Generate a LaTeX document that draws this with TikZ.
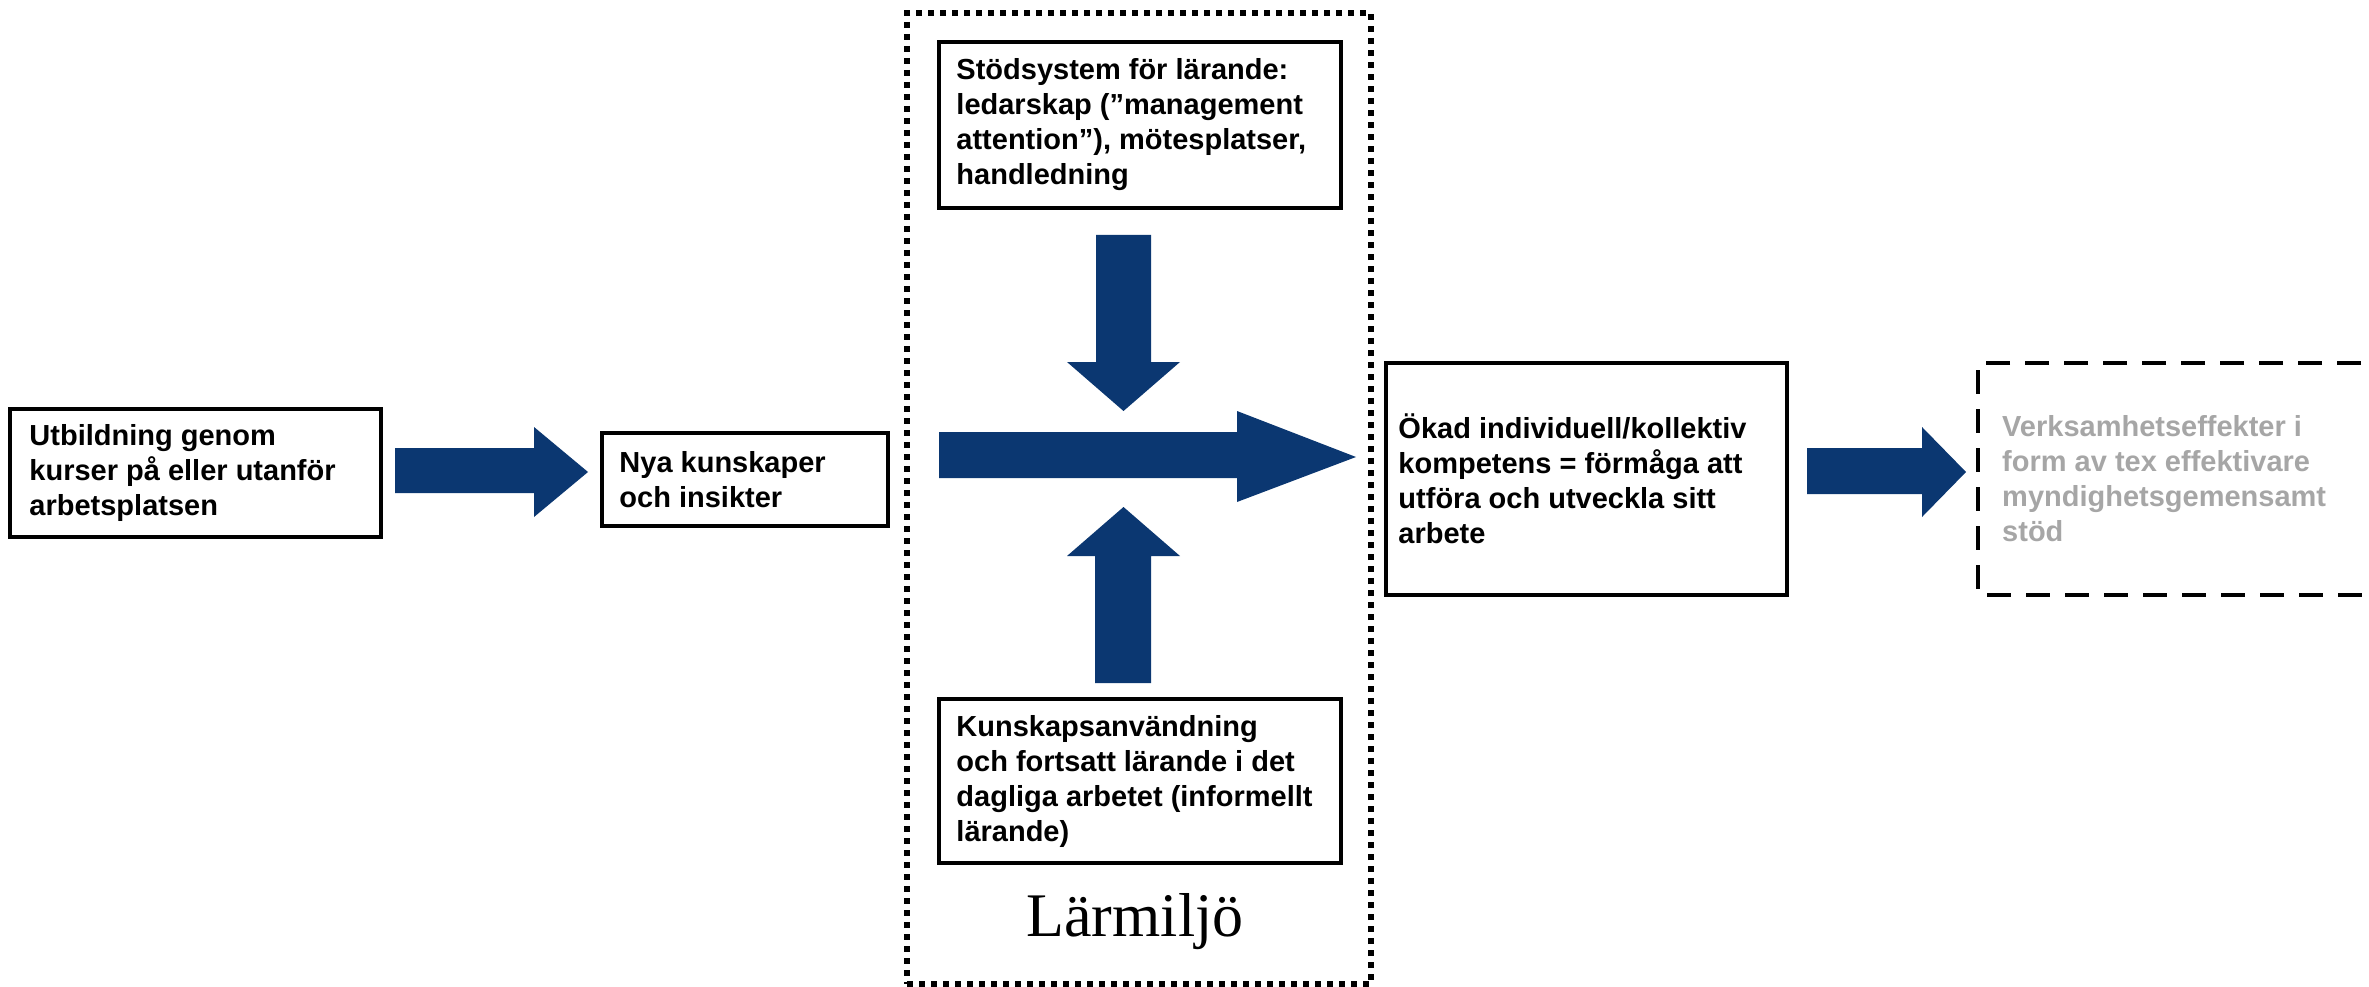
\documentclass[tikz,border=0pt]{standalone}
\usepackage{fontspec}
\setmainfont{Liberation Sans}
\newfontfamily\serifface{Liberation Serif}
\definecolor{arrowblue}{RGB}{11,55,113}
\definecolor{fadedgray}{RGB}{166,166,166}
\tikzset{
  box/.style={draw, line width=3.5pt, inner sep=0pt},
  txt/.style={anchor=west, inner sep=0pt, align=left, font=\bfseries\fontsize{29}{35}\selectfont},
  blockarrow/.style={fill=arrowblue},
  envbox/.style={draw, line width=5.5pt, dash pattern=on 6pt off 6pt, inner sep=0pt},
  dashbox/.style={draw, line width=3.5pt, dash pattern=on 24pt off 15pt},
}
\begin{document}
\begin{tikzpicture}[x=1pt,y=-1pt]
\useasboundingbox (0,0) rectangle (2369,987);
\clip (0,0) rectangle (2369,987);
% learning environment
\node[envbox, minimum width=464pt, minimum height=971pt] (env) at (1139,498.5) {};
\node[font=\serifface\fontsize{62}{70}\selectfont, inner sep=0pt] (lab) at (1135,922) {Lärmiljö};
% boxes
\node[box, minimum width=371pt, minimum height=128pt] (b1) at (195.5,473) {};
\node[txt] (t1) at ([xshift=21pt]b1.west) {Utbildning genom\\kurser på eller utanför\\arbetsplatsen};
\node[box, minimum width=286pt, minimum height=93pt] (b2) at (745,479.5) {};
\node[txt] (t2) at ([xshift=19pt]b2.west) {Nya kunskaper\\och insikter};
\node[box, minimum width=402pt, minimum height=166pt] (b3) at (1140,125) {};
\node[txt] (t3) at ([xshift=19pt]b3.west) {Stödsystem för lärande:\\ledarskap (”management\\attention”), mötesplatser,\\handledning};
\node[box, minimum width=402pt, minimum height=164pt] (b4) at (1140,781) {};
\node[txt] (t4) at ([xshift=19pt]b4.west) {Kunskapsanvändning\\och fortsatt lärande i det\\dagliga arbetet (informellt\\lärande)};
\node[box, minimum width=401pt, minimum height=232pt] (b5) at (1586.5,479) {};
\node[txt] (t5) at ([xshift=14pt]b5.west) {Ökad individuell/kollektiv\\kompetens = förmåga att\\utföra och utveckla sitt\\arbete};
% faded dashed box (open to the right)
\coordinate (d1) at (2400,363);
\coordinate (d2) at (1978,363);
\coordinate (d3) at (1978,595);
\coordinate (d4) at (2400,595);
\draw[dashbox] (d1) -- (d2) -- (d3) -- (d4);
\node[txt, text=fadedgray] (t6) at (2002,479) {Verksamhetseffekter i\\form av tex effektivare\\myndighetsgemensamt\\stöd};
% block arrows
\fill[blockarrow] (395,448) -- (534,448) -- (534,427) -- (588,472) -- (534,517) -- (534,493) -- (395,493) -- cycle;
\fill[blockarrow] (939,432) -- (1237,432) -- (1237,411) -- (1356,457) -- (1237,502) -- (1237,478) -- (939,478) -- cycle;
\fill[blockarrow] (1096,235) -- (1151,235) -- (1151,362) -- (1180,362) -- (1123.5,411) -- (1067,362) -- (1096,362) -- cycle;
\fill[blockarrow] (1095,683) -- (1151,683) -- (1151,556) -- (1180,556) -- (1123.5,507) -- (1067,556) -- (1095,556) -- cycle;
\fill[blockarrow] (1807,448) -- (1922,448) -- (1922,427) -- (1966,472) -- (1922,517) -- (1922,494) -- (1807,494) -- cycle;
\end{tikzpicture}
\end{document}
